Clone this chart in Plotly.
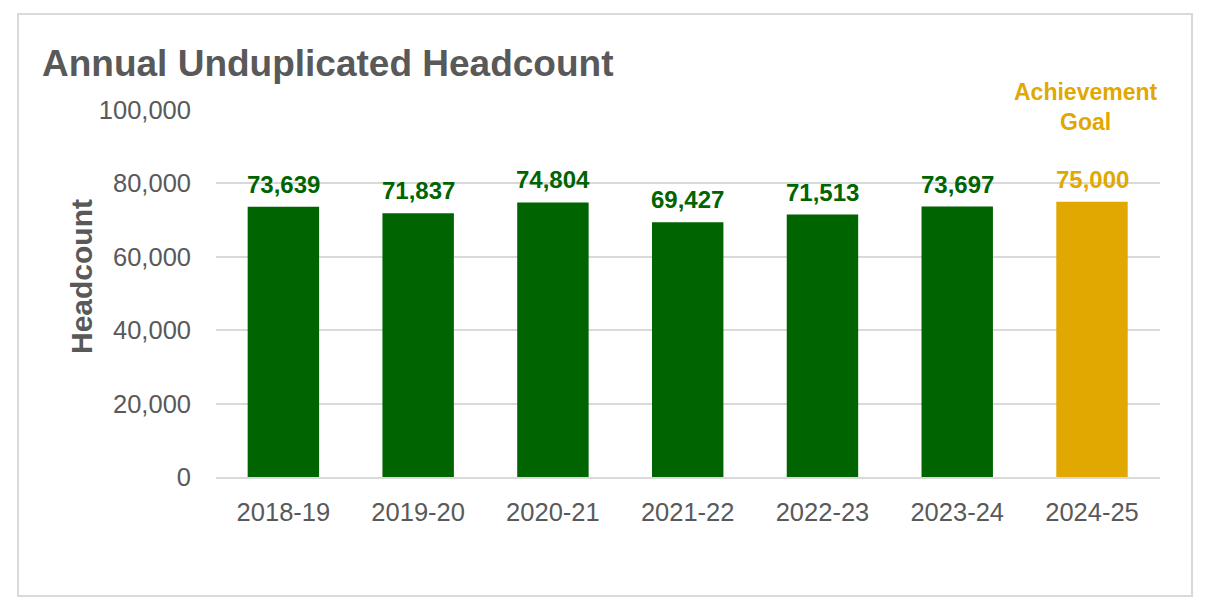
import plotly.graph_objects as go

years = ["2018-19", "2019-20", "2020-21", "2021-22", "2022-23", "2023-24", "2024-25"]
headcount = [73639, 71837, 74804, 69427, 71513, 73697, 75000]
bar_colors = ["#006400"] * 6 + ["#E0A800"]
label_colors = ["#006400"] * 6 + ["#E0A800"]
tick_vals = [0, 20000, 40000, 60000, 80000, 100000]

GRAY = "#595959"
FONT = "Liberation Sans, Arial, sans-serif"

W, H = 1210, 611
L, R, T, B = 216, 50, 110, 134
PW, PH = W - L - R, H - T - B

fig = go.Figure()
fig.add_trace(go.Bar(
    x=years, y=headcount, marker=dict(color=bar_colors, line=dict(width=0)),
    hoverinfo="x+y",
))

for x, y, c in zip(years, headcount, label_colors):
    fig.add_annotation(
        x=x, y=y, text=f"<b>{y:,}</b>", showarrow=False, yanchor="bottom",
        yshift=7, font=dict(family=FONT, size=24, color=c),
    )

fig.add_annotation(
    x=years[-1], y=100000, text="<b>Achievement<br>Goal</b>", showarrow=False,
    yanchor="middle", xshift=-6, yshift=3,
    font=dict(family=FONT, size=23, color="#E0A800"),
)

# y-axis title as annotation (positioned like the reference)
fig.add_annotation(
    xref="paper", yref="paper", x=(81 - L) / PW, y=(H - B - 277) / PH,
    text="<b>Headcount</b>", textangle=-90, showarrow=False,
    xanchor="center", yanchor="middle",
    font=dict(family=FONT, size=30, color=GRAY),
)

fig.add_shape(
    type="rect", xref="paper", yref="paper",
    x0=(18 - L) / PW, x1=(1192 - L) / PW,
    y0=(H - B - 596) / PH, y1=(H - B - 14) / PH,
    line=dict(color="#D9D9D9", width=2), fillcolor="rgba(0,0,0,0)", layer="below",
)

fig.update_layout(
    width=W, height=H,
    margin=dict(l=L, r=R, t=T, b=B),
    paper_bgcolor="white", plot_bgcolor="white",
    bargap=0.47,
    showlegend=False,
    title=dict(
        text="<b>Annual Unduplicated Headcount</b>", x=42 / W, xanchor="left",
        y=1 - 63 / H, yanchor="middle",
        font=dict(family=FONT, size=37, color=GRAY),
    ),
    font=dict(family=FONT, color=GRAY),
)
fig.update_yaxes(
    range=[0, 100000], tickvals=tick_vals, tickformat=",d",
    showgrid=True, gridcolor="#D9D9D9", gridwidth=1.5, zeroline=False,
    tickfont=dict(family=FONT, size=25.5, color=GRAY), ticks="", ticklabelstandoff=24,
)
fig.update_xaxes(
    showline=True, linecolor="#D9D9D9", linewidth=2, ticks="",
    tickfont=dict(family=FONT, size=25.5, color=GRAY), ticklabelstandoff=11,
)

fig.write_html("out.html")
